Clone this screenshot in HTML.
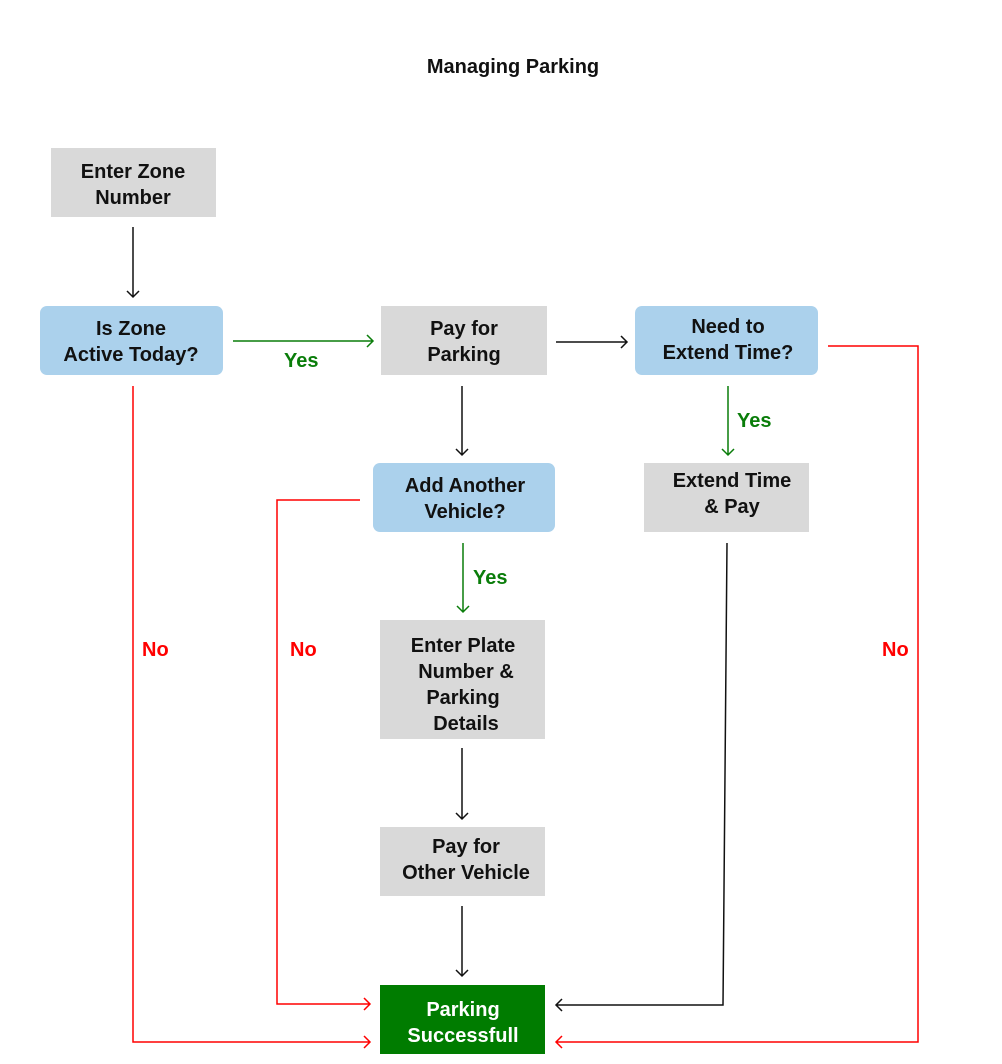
<!DOCTYPE html>
<html><head><meta charset="utf-8"><style>
html,body{margin:0;padding:0;background:#fff;}
svg{display:block;}
text{font-family:"Liberation Sans",sans-serif;}
.t{font-size:20px;font-weight:bold;fill:#111;text-anchor:middle;}
.g{font-size:20px;font-weight:bold;fill:#0a7d0a;}
.r{font-size:20px;font-weight:bold;fill:#f00;}
</style></head><body>
<svg width="1002" height="1064" viewBox="0 0 1002 1064" xmlns="http://www.w3.org/2000/svg">
<text x="513" y="73" style="font-size:20px;font-weight:bold;fill:#111;" text-anchor="middle">Managing Parking</text>

<!-- boxes -->
<rect x="51" y="148" width="165" height="69" fill="#d9d9d9"/>
<text class="t" x="133" y="178">Enter Zone</text><text class="t" x="133" y="204">Number</text>

<rect x="40" y="306" width="183" height="69" rx="7" fill="#abd1ec"/>
<text class="t" x="131" y="335">Is Zone</text><text class="t" x="131" y="361">Active Today?</text>

<rect x="381" y="306" width="166" height="69" fill="#d9d9d9"/>
<text class="t" x="464" y="335">Pay  for</text><text class="t" x="464" y="361">Parking</text>

<rect x="635" y="306" width="183" height="69" rx="7" fill="#abd1ec"/>
<text class="t" x="728" y="333">Need to</text><text class="t" x="728" y="359">Extend Time?</text>

<rect x="373" y="463" width="182" height="69" rx="7" fill="#abd1ec"/>
<text class="t" x="465" y="492">Add Another</text><text class="t" x="465" y="518">Vehicle?</text>

<rect x="644" y="463" width="165" height="69" fill="#d9d9d9"/>
<text class="t" x="732" y="487">Extend Time</text><text class="t" x="732" y="513">&amp; Pay</text>

<rect x="380" y="620" width="165" height="119" fill="#d9d9d9"/>
<text class="t" x="463" y="652">Enter Plate</text><text class="t" x="466" y="678">Number &amp;</text>
<text class="t" x="463" y="704">Parking</text><text class="t" x="466" y="730">Details</text>

<rect x="380" y="827" width="165" height="69" fill="#d9d9d9"/>
<text class="t" x="466" y="853">Pay for</text><text class="t" x="466" y="879">Other Vehicle</text>

<rect x="380" y="985" width="165" height="69" fill="#007c00"/>
<text class="t" x="463" y="1016" style="fill:#fff">Parking</text><text class="t" x="463" y="1042" style="fill:#fff">Successfull</text>

<!-- connectors -->
<g fill="none" stroke-width="1.5">
<g stroke="#111">
<path d="M133 227V297M127 291L133 297L139 291"/>
<path d="M556 342H627M621 336L627 342L621 348"/>
<path d="M462 386V455M456 449L462 455L468 449"/>
<path d="M462 748V819M456 813L462 819L468 813"/>
<path d="M462 906V976M456 970L462 976L468 970"/>
<path d="M727 543L723 1005H556M562 999L556 1005L562 1011"/>
</g>
<g stroke="#0a7d0a">
<path d="M233 341H373M367 335L373 341L367 347"/>
<path d="M728 386V455M722 449L728 455L734 449"/>
<path d="M463 543V612M457 606L463 612L469 606"/>
</g>
<g stroke="#f00">
<path d="M133 386V1042H370M364 1036L370 1042L364 1048"/>
<path d="M360 500H277V1004H370M364 998L370 1004L364 1010"/>
<path d="M828 346H918V1042H556M562 1036L556 1042L562 1048"/>
</g>
</g>

<text class="g" x="284" y="367">Yes</text>
<text class="g" x="737" y="427">Yes</text>
<text class="g" x="473" y="584">Yes</text>
<text class="r" x="142" y="656">No</text>
<text class="r" x="290" y="656">No</text>
<text class="r" x="882" y="656">No</text>
</svg>
</body></html>
